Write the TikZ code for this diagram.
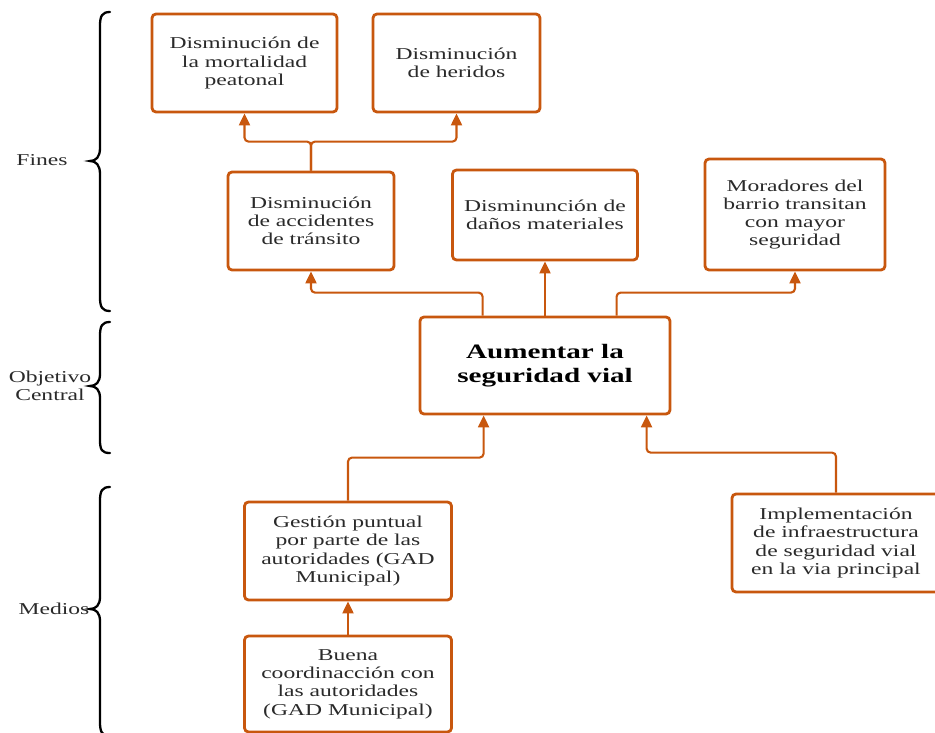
\documentclass[tikz,border=0pt]{standalone}
\usepackage{fontspec}
\setmainfont[FakeStretch=1.42]{Liberation Serif}
\usetikzlibrary{arrows.meta}
\definecolor{ora}{HTML}{C8570E}
\definecolor{txt}{HTML}{2A2A2A}
\tikzset{
  box/.style={draw=ora, line width=2.8pt, rounded corners=4pt, fill=white,
    align=center, inner sep=0pt, text=txt, font=\fontsize{16.6}{18.3}\selectfont},
  arr/.style={draw=ora, line width=2.1pt, rounded corners=4pt,
    -{Triangle[width=11pt,length=12pt]}},
  brace/.style={draw=black, line width=2.3pt, line cap=round},
  lbl/.style={text=txt, font=\fontsize{16.6}{18}\selectfont, align=center, inner sep=0pt}
}
\begin{document}
\begin{tikzpicture}[x=1pt,y=-1pt]
\useasboundingbox (0,0) rectangle (935,733);
\clip (0,0) rectangle (935,733);
% boxes
\node[box, minimum width=185pt, minimum height=98pt] (A) at (244.5,63) {Disminución de\\la mortalidad\\peatonal};
\node[box, minimum width=167pt, minimum height=98pt] (B) at (456.5,63) {Disminución\\de heridos};
\node[box, minimum width=166pt, minimum height=98pt] (C) at (311,221) {Disminución\\de accidentes\\de tránsito};
\node[box, minimum width=185pt, minimum height=90pt] (D) at (545,215) {Disminunción de\\daños materiales};
\node[box, minimum width=180pt, minimum height=111pt] (E) at (795,214.5) {Moradores del\\barrio transitan\\con mayor\\seguridad};
\node[box, minimum width=250pt, minimum height=97pt, text=black, font=\bfseries\fontsize{20.5}{24}\selectfont] (F) at (545,365.5) {Aumentar la\\seguridad vial};
\node[box, minimum width=207pt, minimum height=98pt] (G) at (348,551) {Gestión puntual\\por parte de las\\autoridades (GAD\\Municipal)};
\node[box, minimum width=207pt, minimum height=96pt] (H) at (348,684) {Buena\\coordinacción con\\las autoridades\\(GAD Municipal)};
\node[box, minimum width=208pt, minimum height=98pt] (I) at (836,543) {Implementación\\de infraestructura\\de seguridad vial\\en la via principal};
% connectors
\draw[arr] ([xshift=64pt]F.north west) -- ++(0,-23) -| (C.south);
\draw[arr] (F.north -| D.south) -- (D.south);
\draw[arr] ([xshift=198pt]F.north west) -- ++(0,-23) -| (E.south);
\draw[arr] (C.north) -- ++(0,-29) -| (A.south);
\draw[arr] (C.north) -- ++(0,-29) -| (B.south);
\draw[arr] (G.north) -- ++(0,-43) -| ([xshift=65pt]F.south west);
\draw[arr] (I.north) -- ++(0,-40) -| ([xshift=228pt]F.south west);
\draw[arr] (H.north) -- (G.south);
% braces
\draw[brace] (110,12) .. controls (102,12) and (100,16) .. (100,26) -- (100,148)
  .. controls (100,157) and (96,161) .. (90,161) .. controls (96,161) and (100,165) .. (100,174)
  -- (100,297) .. controls (100,307) and (102,311) .. (110,311);
\draw[brace] (110,322) .. controls (102,322) and (100,326) .. (100,336) -- (100,374)
  .. controls (100,382) and (96,386) .. (90,386) .. controls (96,386) and (100,390) .. (100,398)
  -- (100,440) .. controls (100,450) and (102,453) .. (110,453);
\draw[brace] (110,487) .. controls (102,487) and (100,491) .. (100,501) -- (100,597)
  .. controls (100,605) and (96,609) .. (90,609) .. controls (96,609) and (100,613) .. (100,621)
  -- (100,722) .. controls (100,732) and (102,736) .. (110,736);
% labels
\node[lbl] (fines) at (42,160) {Fines};
\node[lbl] (obj) at (50,386) {Objetivo\\Central};
\node[lbl] (medios) at (54,609) {Medios};
\end{tikzpicture}
\end{document}
